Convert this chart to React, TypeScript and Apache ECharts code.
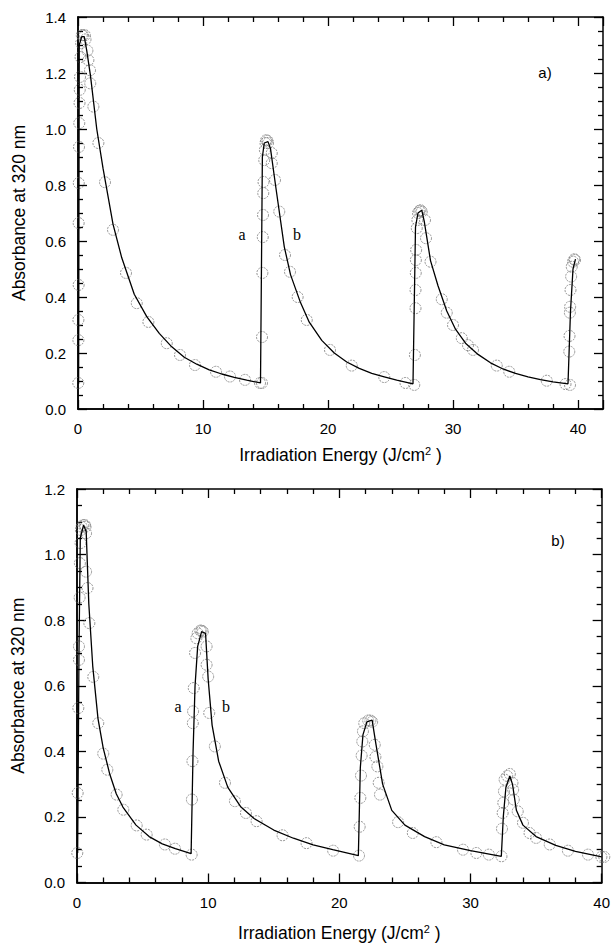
import React, { useEffect, useRef } from "react";
import * as echarts from "echarts";

// Panel a) measured points (irradiation energy, absorbance)
const pointsA: number[][] = [
  [0.02, 0.093], [0.03, 0.246], [0.03, 0.318], [0.05, 0.443], [0.05, 0.664], [0.06, 0.807], [0.08, 0.936],
  [0.1, 1.021], [0.12, 1.093], [0.14, 1.14], [0.16, 1.186], [0.2, 1.257], [0.25, 1.307], [0.3, 1.335],
  [0.4, 1.335], [0.55, 1.335], [0.6, 1.32],
  [0.75, 1.28], [0.83, 1.246], [0.96, 1.21], [0.98, 1.163], [1.23, 1.08], [1.63, 0.95], [2.16, 0.81],
  [2.8, 0.64], [3.84, 0.486], [4.7, 0.378], [5.63, 0.311], [7.1, 0.235], [8.16, 0.193], [9.36, 0.157],
  [11.04, 0.133], [12.16, 0.116], [13.36, 0.104], [14.56, 0.093],
  [14.72, 0.093], [14.72, 0.257], [14.75, 0.486], [14.78, 0.614], [14.8, 0.693], [14.82, 0.771],
  [14.84, 0.811], [14.9, 0.889], [14.95, 0.925], [15.0, 0.95], [15.05, 0.96], [15.15, 0.958], [15.2, 0.95],
  [15.5, 0.914], [15.5, 0.878], [15.76, 0.818], [16.1, 0.705], [16.56, 0.55], [16.96, 0.49], [17.57, 0.4],
  [18.3, 0.318], [20.16, 0.211], [21.9, 0.155], [24.5, 0.114], [26.2, 0.093], [26.9, 0.086],
  [26.95, 0.193], [27.0, 0.36], [27.0, 0.425], [27.02, 0.486], [27.03, 0.532], [27.05, 0.568],
  [27.1, 0.646], [27.15, 0.675], [27.2, 0.7], [27.3, 0.707], [27.4, 0.71], [27.5, 0.705],
  [27.76, 0.675], [27.84, 0.61], [28.2, 0.526], [29.1, 0.392], [29.5, 0.344], [30.0, 0.3], [30.7, 0.253],
  [31.2, 0.228], [31.6, 0.211], [33.5, 0.155], [34.5, 0.133], [37.5, 0.101], [39.0, 0.089], [39.36, 0.086],
  [39.3, 0.205], [39.32, 0.261], [39.35, 0.344], [39.37, 0.365], [39.4, 0.425], [39.45, 0.473],
  [39.5, 0.508], [39.6, 0.526], [39.7, 0.535], [39.76, 0.532],
];

// Panel a) fitted curve
const curveA: number[][] = [
  [0.05, 0.09], [0.1, 1.3], [0.3, 1.33], [0.5, 1.33], [0.7, 1.28], [1.0, 1.19], [1.5, 1.0], [2.0, 0.86],
  [2.8, 0.66], [3.5, 0.54], [4.5, 0.41], [5.5, 0.33], [6.5, 0.27], [7.5, 0.222], [8.5, 0.185], [9.5, 0.16],
  [10.5, 0.14], [11.5, 0.125], [12.5, 0.113], [13.5, 0.103], [14.6, 0.093],
  [14.75, 0.9], [14.9, 0.95], [15.2, 0.955], [15.4, 0.93], [15.8, 0.8], [16.5, 0.58], [17.0, 0.48],
  [17.8, 0.38], [18.5, 0.31], [19.5, 0.245], [20.5, 0.2], [21.5, 0.168], [22.5, 0.145], [23.5, 0.127],
  [24.5, 0.115], [25.5, 0.103], [26.8, 0.09],
  [27.0, 0.65], [27.2, 0.7], [27.5, 0.71], [27.7, 0.67], [28.2, 0.53], [28.8, 0.44], [29.5, 0.35],
  [30.2, 0.285], [31.0, 0.235], [32.0, 0.195], [33.0, 0.165], [34.0, 0.143], [35.0, 0.127], [36.0, 0.115],
  [37.0, 0.105], [38.0, 0.097], [39.2, 0.09],
  [39.4, 0.35], [39.6, 0.5], [39.8, 0.535],
];

// Panel b) measured points
const pointsB: number[][] = [
  [0.02, 0.09], [0.05, 0.273], [0.1, 0.532], [0.15, 0.679], [0.15, 0.72], [0.2, 0.869], [0.22, 0.974],
  [0.27, 1.035], [0.3, 1.075], [0.35, 1.085], [0.48, 1.09], [0.6, 1.09], [0.65, 1.085],
  [0.69, 1.065], [0.69, 0.948], [0.8, 0.898], [0.94, 0.791], [1.24, 0.627], [1.62, 0.486], [2.0, 0.393],
  [2.31, 0.344], [3.02, 0.268], [3.53, 0.222], [4.55, 0.174], [5.31, 0.146], [6.7, 0.116], [7.47, 0.103],
  [8.74, 0.085],
  [8.76, 0.253], [8.8, 0.37], [8.83, 0.486], [8.85, 0.522], [8.9, 0.593], [9.0, 0.7], [9.1, 0.745],
  [9.2, 0.76], [9.4, 0.768], [9.5, 0.768], [9.6, 0.765],
  [9.88, 0.72], [9.88, 0.664], [10.0, 0.628], [10.08, 0.517], [10.51, 0.415], [11.28, 0.304],
  [12.04, 0.248], [12.88, 0.212], [13.69, 0.187], [15.67, 0.144], [17.5, 0.12], [19.53, 0.097], [21.5, 0.082],
  [21.55, 0.17], [21.6, 0.258], [21.65, 0.326], [21.7, 0.387], [21.75, 0.43], [21.8, 0.461], [21.9, 0.486],
  [22.2, 0.494], [22.37, 0.494], [22.5, 0.49],
  [22.7, 0.42], [22.75, 0.383], [22.9, 0.354], [23.0, 0.304], [23.1, 0.268], [24.48, 0.184], [25.6, 0.151],
  [27.4, 0.123], [29.43, 0.1], [30.45, 0.09], [31.4, 0.085], [32.36, 0.08],
  [32.4, 0.164], [32.45, 0.212], [32.5, 0.243], [32.55, 0.278], [32.6, 0.314], [32.8, 0.325], [33.0, 0.331],
  [33.2, 0.304], [33.25, 0.283], [33.3, 0.253], [33.6, 0.217], [34.0, 0.182], [34.5, 0.151], [35.0, 0.136],
  [36.04, 0.116], [37.43, 0.097], [38.96, 0.085], [39.98, 0.078], [40.2, 0.078],
];

// Panel b) fitted curve
const curveB: number[][] = [
  [0.05, 0.09], [0.15, 0.7], [0.25, 1.05], [0.5, 1.09], [0.7, 1.07], [0.9, 0.85], [1.2, 0.66], [1.6, 0.5],
  [2.0, 0.41], [2.5, 0.33], [3.0, 0.27], [3.5, 0.23], [4.5, 0.175], [5.5, 0.14], [6.5, 0.118], [7.5, 0.103],
  [8.7, 0.088],
  [8.85, 0.4], [9.0, 0.6], [9.2, 0.72], [9.5, 0.765], [9.8, 0.76], [10.0, 0.62], [10.3, 0.48], [10.8, 0.37],
  [11.5, 0.29], [12.5, 0.23], [13.5, 0.195], [15.0, 0.16], [16.5, 0.135], [18.0, 0.115], [19.5, 0.1],
  [21.45, 0.082],
  [21.6, 0.35], [21.8, 0.45], [22.1, 0.49], [22.5, 0.495], [22.8, 0.42], [23.3, 0.3], [24.0, 0.22],
  [25.0, 0.175], [26.5, 0.14], [28.0, 0.115], [30.0, 0.097], [32.35, 0.08],
  [32.5, 0.2], [32.7, 0.29], [33.0, 0.325], [33.2, 0.3], [33.5, 0.22], [34.0, 0.175], [35.0, 0.14],
  [36.5, 0.113], [38.0, 0.095], [40.0, 0.078],
];

const xTitle = "Irradiation Energy (J/cm{sup|2} )";
const yTitle = "Absorbance at 320 nm";

const FONT = "'Liberation Sans', Arial, Helvetica, sans-serif";
const SERIF = "'Liberation Serif', 'Times New Roman', serif";

export default function App() {
  const ref = useRef<HTMLDivElement>(null);

  useEffect(() => {
    document.body.style.margin = "0";
    const chart = echarts.init(ref.current!, undefined, { renderer: "svg" });

    const axisLine = () => ({ show: true, onZero: false, lineStyle: { color: "#000", width: 1.5 } });
    const tick = () => ({ show: true, inside: true, length: 9, lineStyle: { color: "#000", width: 1.3 } });
    const minor = (n: number) => ({ show: true, splitNumber: n, length: 5, lineStyle: { color: "#000", width: 1.3 } });
    const label = (fmt: (v: number) => string) => ({
      show: true, color: "#000", fontSize: 15, fontFamily: FONT, margin: 12, formatter: fmt,
    });
    const nameStyle = () => ({
      color: "#000", fontSize: 17.5, fontFamily: FONT,
      rich: { sup: { fontSize: 11, verticalAlign: "top", color: "#000", fontFamily: FONT, padding: [0, 0, 8, 0] } },
    });

    // Axis carrying the labels and the title (no ticks)
    const xLabelAx = (grid: number, max: number, gap: number) => ({
      type: "value", gridIndex: grid, min: 0, max, interval: 10, position: "bottom",
      axisLine: axisLine(), axisTick: { show: false }, minorTick: { show: false }, splitLine: { show: false },
      axisLabel: label((v: number) => (v % 10 === 0 ? String(v) : "")),
      name: xTitle, nameLocation: "middle", nameGap: gap, nameTextStyle: nameStyle(),
    });
    // Tick-only axis
    const xTickAx = (grid: number, max: number, pos: "bottom" | "top") => ({
      type: "value", gridIndex: grid, min: 0, max, interval: 10, position: pos,
      axisLine: axisLine(), axisTick: tick(), minorTick: minor(5), splitLine: { show: false },
      axisLabel: { show: false },
    });
    const yLabelAx = (grid: number, max: number) => ({
      type: "value", gridIndex: grid, min: 0, max, interval: 0.2, position: "left",
      axisLine: axisLine(), axisTick: { show: false }, minorTick: { show: false }, splitLine: { show: false },
      axisLabel: label((v: number) => v.toFixed(1)),
      name: yTitle, nameLocation: "middle", nameGap: 50, nameTextStyle: nameStyle(),
    });
    const yTickAx = (grid: number, max: number, pos: "left" | "right") => ({
      type: "value", gridIndex: grid, min: 0, max, interval: 0.2, position: pos,
      axisLine: axisLine(), axisTick: tick(), minorTick: minor(4), splitLine: { show: false },
      axisLabel: { show: false },
    });

    const scatterStyle = () => ({
      symbol: "circle", symbolSize: 11, clip: false,
      itemStyle: { color: "rgba(0,0,0,0)", borderColor: "#707070", borderWidth: 0.9, borderType: [2, 1] },
    });
    const lineStyle = () => ({ color: "#000", width: 1.3 });

    chart.setOption({
      animation: false,
      grid: [
        { left: 78, top: 17, width: 525, height: 392 },
        { left: 77, top: 489, width: 525, height: 394 },
      ],
      xAxis: [
        xLabelAx(0, 42, 36), xTickAx(0, 42, "top"), xTickAx(0, 42, "bottom"),
        xLabelAx(1, 40, 41), xTickAx(1, 40, "top"), xTickAx(1, 40, "bottom"),
      ],
      yAxis: [
        yLabelAx(0, 1.4), yTickAx(0, 1.4, "right"), yTickAx(0, 1.4, "left"),
        yLabelAx(1, 1.2), yTickAx(1, 1.2, "right"), yTickAx(1, 1.2, "left"),
      ],
      series: [
        { type: "line", xAxisIndex: 0, yAxisIndex: 0, data: curveA, showSymbol: false, lineStyle: lineStyle(), z: 3 },
        { type: "scatter", xAxisIndex: 0, yAxisIndex: 0, data: pointsA, ...scatterStyle(), z: 2 },
        { type: "line", xAxisIndex: 3, yAxisIndex: 3, data: curveB, showSymbol: false, lineStyle: lineStyle(), z: 3 },
        { type: "scatter", xAxisIndex: 3, yAxisIndex: 3, data: pointsB, ...scatterStyle(), z: 2 },
      ],
      graphic: [
        { type: "text", x: 545, y: 72, style: { text: "a)", fontSize: 15, fontFamily: FONT, fill: "#000", align: "center", verticalAlign: "middle" } },
        { type: "text", x: 242, y: 234, style: { text: "a", fontSize: 16, fontFamily: SERIF, fill: "#000", align: "center", verticalAlign: "middle" } },
        { type: "text", x: 297, y: 234, style: { text: "b", fontSize: 16, fontFamily: SERIF, fill: "#000", align: "center", verticalAlign: "middle" } },
        { type: "text", x: 558, y: 540, style: { text: "b)", fontSize: 15, fontFamily: FONT, fill: "#000", align: "center", verticalAlign: "middle" } },
        { type: "text", x: 178, y: 706, style: { text: "a", fontSize: 16, fontFamily: SERIF, fill: "#000", align: "center", verticalAlign: "middle" } },
        { type: "text", x: 226, y: 706, style: { text: "b", fontSize: 16, fontFamily: SERIF, fill: "#000", align: "center", verticalAlign: "middle" } },
      ],
    });

    return () => chart.dispose();
  }, []);

  return <div ref={ref} style={{ width: 613, height: 943 }} />;
}
